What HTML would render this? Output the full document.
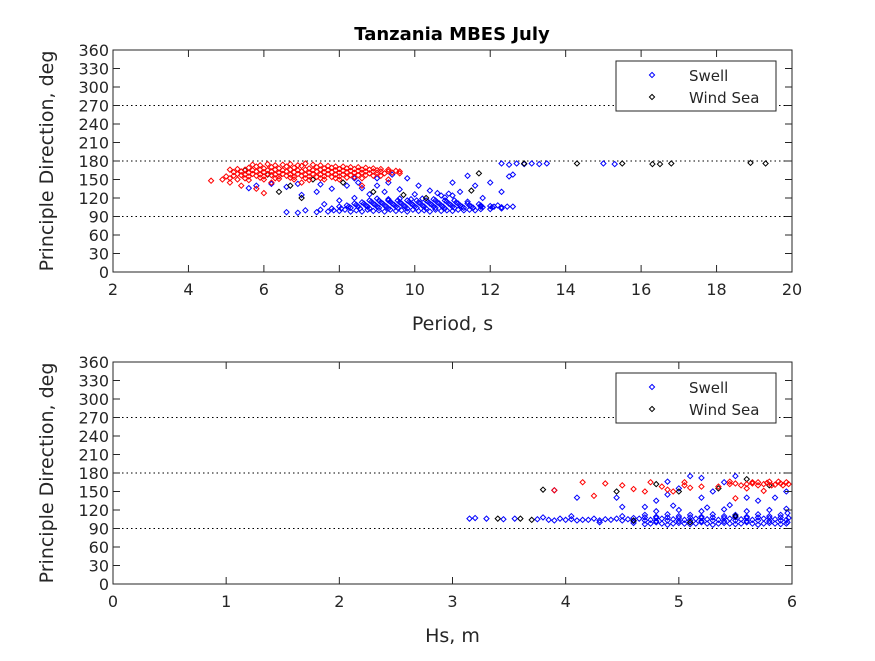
<!DOCTYPE html>
<html><head><meta charset="utf-8"><style>
body{margin:0;background:#fff}
svg text{font-family:"DejaVu Sans","Liberation Sans",sans-serif;fill:#262626}
</style></head><body>
<svg id="fig" width="875" height="656" xmlns="http://www.w3.org/2000/svg">
<rect width="875" height="656" fill="#fff"/>
<text x="452" y="40" font-size="18" font-weight="bold" text-anchor="middle" style="fill:#000">Tanzania MBES July</text>
<g id="ax1"></g>
<g id="ax2"></g>
</svg>
<script>
const yTicks=[0,30,60,90,120,150,180,210,240,270,300,330,360];
const refLines=[90,180,270];
const periodTicks=[2,4,6,8,10,12,14,16,18,20];
const hsTicks=[0,1,2,3,4,5,6];
const topRed="4.6,148 4.9,150 5.1,145 5.4,140 5.8,135 6.2,145 6.0,128 7.0,145 8.0,150 8.6,140 9.3,150 9.6,163 "+
"5.6,169 5.8,171 6.0,168 6.2,170 6.4,168 6.6,171 6.8,169 7.0,172 7.2,168 7.4,170 7.6,168 7.8,169 8.0,167 8.2,168 8.4,167 8.6,166 8.8,166 9.0,165 "+
"5.7,174 5.9,173 6.1,175 6.3,173 6.5,174 6.7,175 6.9,173 7.1,176 7.3,174 7.5,173 7.7,172 7.9,171 8.1,171 8.3,170 8.5,170 8.7,169 8.9,168 9.1,167 9.3,166 "+
"5.2,162 5.4,163 5.6,161 5.8,163 6.0,162 6.2,163 6.4,161 6.6,163 6.8,162 7.0,163 7.2,161 7.4,163 7.6,162 7.8,162 8.0,161 8.2,162 8.4,161 8.6,161 8.8,160 9.0,161 9.2,160 9.4,161 9.6,160 "+
"5.3,159 5.5,158 5.7,159 5.9,158 6.1,159 6.3,158 6.5,159 6.7,158 6.9,159 7.1,158 7.3,159 7.5,158 7.7,159 7.9,158 8.1,158 8.3,157 8.5,157 8.7,157 8.9,156 9.1,156 "+
"5.1,166 5.3,167 5.5,166 5.7,165 5.9,166 6.1,165 6.3,166 6.5,165 6.7,166 6.9,165 7.1,166 7.3,165 7.5,166 7.7,165 7.9,165 8.1,164 8.3,164 8.5,164 8.7,163 8.9,163 9.1,163 9.3,163 9.5,164 "+
"5.0,155 5.2,156 5.4,157 5.6,155 5.8,156 6.0,155 6.2,157 6.4,155 6.6,156 6.8,154 7.0,156 7.2,155 7.4,154 7.6,155 7.8,154 8.0,155 8.2,153 8.4,154 8.6,152 "+
"5.3,150 5.6,149 6.0,150 6.4,151 6.8,150 7.2,149 7.6,150 5.1,152 5.5,152 5.9,153 6.3,152 6.7,153 7.1,152 7.5,152 7.9,152";
const topBlue="7.4,97 7.7,98 8.0,99 8.3,98 8.6,98 8.9,99 9.2,98 9.5,99 9.8,98 10.1,99 10.4,98 10.7,99 11.0,99 11.3,100 11.6,100 "+
"7.5,101 7.85,100 8.15,101 8.45,100 8.75,101 9.05,100 9.35,101 9.65,100 9.95,101 10.25,100 10.55,101 10.85,100 11.15,101 11.45,101 11.75,102 12.0,102 12.3,103 "+
"7.8,103 8.05,103 8.3,104 8.55,103 8.8,103 9.05,104 9.3,103 9.55,104 9.8,103 10.05,104 10.3,103 10.55,104 10.8,103 11.05,104 11.3,104 11.55,104 11.8,105 12.05,105 12.3,105 12.6,106 "+
"8.0,106 8.25,106 8.5,106 8.75,106 9.0,106 9.25,106 9.5,106 9.75,106 10.0,106 10.25,106 10.5,106 10.75,106 11.0,106 11.25,106 11.5,106 11.75,106 12.1,106 12.45,106 "+
"8.2,108 8.45,109 8.7,108 8.95,109 9.2,108 9.45,109 9.7,108 9.95,109 10.2,108 10.45,109 10.7,108 10.95,109 11.2,108 11.45,108 11.75,108 12.0,107 "+
"8.4,111 8.65,111 8.9,111 9.15,111 9.4,111 9.65,111 9.9,111 10.15,111 10.4,111 10.65,111 10.9,111 11.15,111 11.4,111 11.7,110 "+
"8.6,113 8.85,114 9.1,113 9.35,114 9.6,113 9.85,114 10.1,113 10.35,114 10.6,113 10.85,114 11.1,113 11.4,114 "+
"8.8,116 9.05,116 9.3,116 9.55,116 9.8,116 10.05,116 10.3,116 10.55,116 10.8,116 11.05,116 "+
"9.0,119 9.3,118 9.6,119 9.9,118 10.2,119 10.5,118 10.8,121 11.0,124 10.6,128 11.2,130 10.4,132 10.0,126 10.7,124 10.9,127 "+
"6.6,97 6.9,96 7.1,100 7.6,110 8.0,116 8.4,120 8.8,126 9.2,130 9.6,134 9.0,140 8.5,145 8.2,140 7.8,135 7.4,130 7.0,125 6.6,138 6.2,143 5.8,140 5.6,136 6.9,143 7.5,142 8.6,136 9.3,145 9.8,152 9.4,158 10.1,140 11.0,145 11.6,140 12.0,145 12.3,130 11.8,120 12.2,108 11.4,156 9.0,152 8.4,152 "+
"12.3,176 12.5,174 12.7,176 12.9,175 13.1,176 13.3,175 13.5,176 15.0,176 15.3,175 12.6,158 12.5,155";
const topBlack="5.5,165 6.1,158 6.7,140 7.3,150 8.1,145 8.9,130 9.7,125 10.3,120 11.5,132 11.7,160 14.3,176 15.5,176 16.3,175 16.5,175 16.8,176 18.9,177 19.3,176 12.9,176 7.0,120 6.4,130";
const botRed="3.9,152 4.15,165 4.35,163 4.25,143 4.5,160 4.6,154 4.7,150 4.75,165 4.85,158 4.9,153 5.05,160 5.1,156 5.2,158 5.35,158 5.45,162 5.55,160 5.6,155 5.7,165 5.75,162 5.8,166 5.85,161 5.9,163 5.95,165 5.65,163 5.75,151 5.5,139 5.05,165 4.95,150 "+
"5.6,162 5.65,165 5.7,160 5.78,164 5.82,160 5.88,166 5.92,160 5.97,162 5.45,166 5.5,163";
const botBlue="3.15,106 3.2,107 3.3,106 3.45,105 3.55,106 3.75,105 3.85,104 3.95,106 4.05,105 4.15,104 4.25,106 4.35,105 4.45,106 4.55,105 4.65,106 4.75,104 4.85,106 4.95,105 5.05,104 5.15,106 5.25,105 5.35,104 5.45,106 5.55,105 5.65,104 5.75,106 5.85,105 5.95,104 "+
"3.9,103 4.0,104 4.1,103 4.2,104 4.3,103 4.4,104 4.5,103 4.6,102 4.7,103 4.8,102 4.9,103 5.0,102 5.1,103 5.2,102 5.3,103 5.4,102 5.5,103 5.6,102 5.7,103 5.8,102 5.9,103 "+
"4.6,107 4.7,108 4.8,107 4.9,108 5.0,107 5.1,108 5.2,107 5.3,108 5.4,107 5.5,108 5.6,107 5.7,108 5.8,107 5.9,108 5.97,107 "+
"4.3,100 4.6,99 4.7,97 4.8,100 4.9,96 5.0,99 5.1,97 5.2,100 5.3,96 5.4,99 5.5,97 5.6,100 5.7,96 5.8,99 5.9,97 5.96,100 "+
"4.75,98 4.85,98 4.95,98 5.05,98 5.15,98 5.25,98 5.35,98 5.45,98 5.55,98 5.65,98 5.75,98 5.85,98 5.95,98 "+
"4.5,110 4.7,112 4.8,109 4.9,113 5.0,110 5.1,112 5.2,109 5.3,113 5.4,110 5.5,112 5.6,109 5.7,113 5.8,110 5.9,112 5.96,115 "+
"4.8,118 5.0,120 5.2,118 5.4,121 5.6,118 5.8,120 5.95,122 4.7,125 4.95,127 5.25,124 4.8,135 4.9,145 5.0,155 5.1,175 5.2,172 5.5,175 5.4,165 5.3,150 5.6,140 5.7,135 5.85,140 4.9,166 3.9,152 3.8,108 4.1,140 4.45,140 4.5,125 5.95,150 5.45,128 4.05,110 5.2,140";
const botBlack="3.4,106 3.6,106 3.7,104 3.8,153 4.45,150 4.8,162 5.0,150 5.35,155 5.6,170 5.8,160 5.1,100 5.5,110 4.6,103";

const NS="http://www.w3.org/2000/svg";
function mk(tag,attrs,parent){const e=document.createElementNS(NS,tag);for(const k in attrs)e.setAttribute(k,attrs[k]);parent.appendChild(e);return e;}
function parse(s){return s.trim().split(/\s+/).map(p=>p.split(',').map(Number));}

function drawAxes(g,cfg){
  const {L,R,T,B,xmin,xmax,xticks,xlabel}=cfg;
  const xs=v=>L+(v-xmin)/(xmax-xmin)*(R-L);
  const ys=v=>B-v/360*(B-T);
  const bg=mk('rect',{x:L,y:T,width:R-L,height:B-T,fill:'#fff'},g);
  
  
  refLines.forEach(v=>{
    const l=mk('line',{x1:L,x2:R,y1:ys(v),y2:ys(v),stroke:'#000','stroke-width':1,'stroke-dasharray':'1.5,3'},g);
    
    
  });
  const series=[[cfg.blue,'#0000ff','swell'],[cfg.black,'#000','wind-sea'],[cfg.red,'#ff0000','red']];
  series.forEach(([data,col,nm])=>{
    parse(data).forEach(([x,y])=>{
      if(x<xmin||x>xmax)return;
      const cx=xs(x),cy=ys(y),r=2.6;
      const p=mk('polygon',{points:`${cx},${cy-r} ${cx+r},${cy} ${cx},${cy+r} ${cx-r},${cy}`,fill:'none',stroke:col,'stroke-width':1},g);
      
      
    });
  });
  const box=mk('rect',{x:L,y:T,width:R-L,height:B-T,fill:'none',stroke:'#262626','stroke-width':1},g);
  
  
  yTicks.forEach(v=>{
    mk('line',{x1:L,x2:L+7,y1:ys(v),y2:ys(v),stroke:'#262626'},g);
    mk('line',{x1:R,x2:R-7,y1:ys(v),y2:ys(v),stroke:'#262626'},g);
    const t=mk('text',{x:L-4,y:ys(v)+6,'font-size':16,'text-anchor':'end'},g);
    t.textContent=v;
    
    
  });
  xticks.forEach(v=>{
    mk('line',{x1:xs(v),x2:xs(v),y1:B,y2:B-7,stroke:'#262626'},g);
    mk('line',{x1:xs(v),x2:xs(v),y1:T,y2:T+7,stroke:'#262626'},g);
    const t=mk('text',{x:xs(v),y:B+23,'font-size':16,'text-anchor':'middle'},g);
    t.textContent=v;
    
    
  });
  const xl=mk('text',{x:(L+R)/2,y:B+58,'font-size':19,'text-anchor':'middle'},g);
  xl.textContent=xlabel;
  
  
  const yl=mk('text',{x:0,y:0,'font-size':19,'text-anchor':'middle',transform:`translate(53,${(T+B)/2}) rotate(-90)`},g);
  yl.textContent='Principle Direction, deg';
  
  
  const lg=mk('g',{},g);
  
  
  mk('rect',{x:616,y:T+11,width:160,height:50,fill:'#fff',stroke:'#262626'},lg);
  [['Swell','#0000ff',T+25],['Wind Sea','#000',T+47]].forEach(([lab,col,y])=>{
    const e=mk('g',{},lg);
    
    
    mk('polygon',{points:`${652},${y-2.6} ${654.6},${y} ${652},${y+2.6} ${649.4},${y}`,fill:'none',stroke:col},e);
    const t=mk('text',{x:689,y:y+6,'font-size':15},e);
    t.textContent=lab;
  });
}
drawAxes(document.getElementById('ax1'),{L:113,R:792,T:50,B:272,xmin:2,xmax:20,xticks:periodTicks,xlabel:'Period, s',blue:topBlue,black:topBlack,red:topRed});
drawAxes(document.getElementById('ax2'),{L:113,R:792,T:362,B:584,xmin:0,xmax:6,xticks:hsTicks,xlabel:'Hs, m',blue:botBlue,black:botBlack,red:botRed});
</script>
</body></html>
